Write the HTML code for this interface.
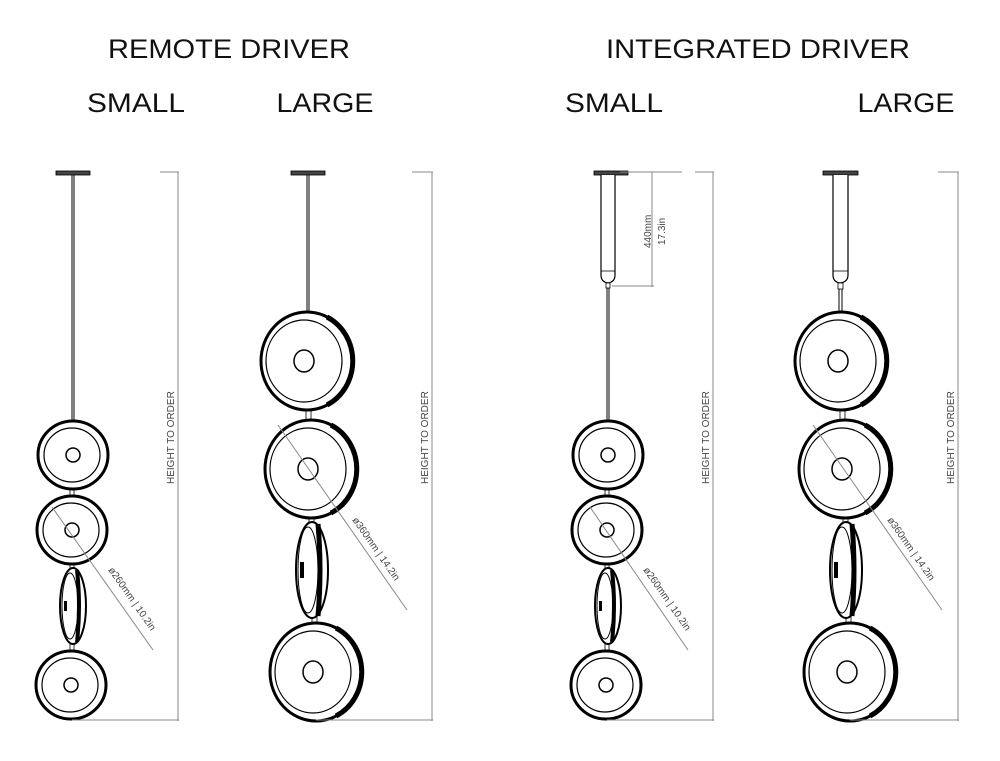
<!DOCTYPE html>
<html><head><meta charset="utf-8"><style>
html,body{margin:0;padding:0;background:#fff}
svg{display:block}
.t{font-family:"Liberation Sans",sans-serif;fill:#111}
.d{font-family:"Liberation Sans",sans-serif;fill:#444;font-size:10px}
</style></head><body>
<svg width="1000" height="761" viewBox="0 0 1000 761" xmlns="http://www.w3.org/2000/svg">
<defs>
  <g id="dS">
    <ellipse cx="0" cy="0" rx="35" ry="34" fill="#fff" stroke="#000" stroke-width="3"/>
    <ellipse cx="-1" cy="0" rx="28" ry="27" fill="none" stroke="#000" stroke-width="1.2"/>
    <circle cx="0" cy="0" r="7" fill="none" stroke="#000" stroke-width="1.5"/>
  </g>
  <g id="dL">
    <ellipse cx="0" cy="0" rx="46" ry="49" fill="#fff" stroke="#000" stroke-width="3"/>
    <path d="M 20 -44 A 46 49 0 0 1 20 44" fill="none" stroke="#000" stroke-width="5"/>
    <ellipse cx="-3" cy="0" rx="38" ry="41" fill="none" stroke="#000" stroke-width="1.2"/>
    <ellipse cx="-3" cy="0" rx="10" ry="11" fill="none" stroke="#000" stroke-width="1.5"/>
  </g>
  <g id="sS">
    <ellipse cx="0" cy="0" rx="13" ry="38" fill="#fff" stroke="#000" stroke-width="2"/>
    <ellipse cx="-3" cy="0" rx="8" ry="33" fill="none" stroke="#000" stroke-width="1"/>
    <path d="M 4 -36 Q 8 0 4 36" fill="none" stroke="#000" stroke-width="4"/>
    <rect x="-9" y="-5" width="3" height="10" fill="#000"/>
  </g>
  <g id="sL">
    <ellipse cx="0" cy="0" rx="16" ry="48" fill="#fff" stroke="#000" stroke-width="2"/>
    <ellipse cx="-4" cy="0" rx="10" ry="43" fill="none" stroke="#000" stroke-width="1"/>
    <path d="M 6 -46 Q 10 0 6 46" fill="none" stroke="#000" stroke-width="5"/>
    <rect x="-12" y="-8" width="4" height="16" fill="#000"/>
  </g>
</defs>

<!-- Titles -->
<text class="t" x="229" y="58" font-size="27" text-anchor="middle" textLength="242" lengthAdjust="spacingAndGlyphs">REMOTE DRIVER</text>
<text class="t" x="758" y="58" font-size="27" text-anchor="middle" textLength="304" lengthAdjust="spacingAndGlyphs">INTEGRATED DRIVER</text>
<text class="t" x="136" y="112" font-size="27" text-anchor="middle" textLength="98" lengthAdjust="spacingAndGlyphs">SMALL</text>
<text class="t" x="325" y="112" font-size="27" text-anchor="middle" textLength="97" lengthAdjust="spacingAndGlyphs">LARGE</text>
<text class="t" x="614" y="112" font-size="27" text-anchor="middle" textLength="98" lengthAdjust="spacingAndGlyphs">SMALL</text>
<text class="t" x="906" y="112" font-size="27" text-anchor="middle" textLength="97" lengthAdjust="spacingAndGlyphs">LARGE</text>

<!-- ===== Remote small ===== -->
<rect x="56" y="171" width="34" height="4" fill="#444" stroke="#000" stroke-width="0.8"/>
<line x1="72" y1="175" x2="72" y2="422" stroke="#000" stroke-width="1"/>
<line x1="74" y1="175" x2="74" y2="422" stroke="#000" stroke-width="1"/>
<rect x="70" y="488" width="4" height="8" fill="#fff" stroke="#000" stroke-width="0.8"/>
<rect x="70" y="562" width="4" height="8" fill="#fff" stroke="#000" stroke-width="0.8"/>
<rect x="70" y="642" width="4" height="8" fill="#fff" stroke="#000" stroke-width="0.8"/>
<use href="#dS" x="73" y="455"/>
<use href="#dS" x="72" y="530"/>
<use href="#sS" x="73" y="606"/>
<use href="#dS" x="71" y="685"/>
<g stroke="#888" stroke-width="1" fill="none">
  <line x1="160" y1="172" x2="179" y2="172"/>
  <line x1="178" y1="172" x2="178" y2="721"/>
  <line x1="72" y1="720" x2="179" y2="720"/>
  <line x1="52" y1="507" x2="153" y2="650"/>
</g>
<text class="d" transform="translate(174,484) rotate(-90)">HEIGHT  TO  ORDER</text>
<text class="d" transform="translate(108,570) rotate(55)">ø260mm  |  10.2in</text>

<!-- ===== Remote large ===== -->
<rect x="291" y="171" width="34" height="4" fill="#444" stroke="#000" stroke-width="0.8"/>
<line x1="307" y1="175" x2="307" y2="313" stroke="#000" stroke-width="1"/>
<line x1="309" y1="175" x2="309" y2="313" stroke="#000" stroke-width="1"/>
<rect x="306" y="406" width="5" height="14" fill="#fff" stroke="#000" stroke-width="0.8"/>
<rect x="309" y="516" width="5" height="10" fill="#fff" stroke="#000" stroke-width="0.8"/>
<rect x="312" y="614" width="5" height="12" fill="#fff" stroke="#000" stroke-width="0.8"/>
<use href="#dL" x="307" y="361"/>
<use href="#dL" x="311" y="469"/>
<use href="#sL" x="312" y="570"/>
<use href="#dL" x="316" y="672"/>
<g stroke="#888" stroke-width="1" fill="none">
  <line x1="412" y1="172" x2="433" y2="172"/>
  <line x1="432" y1="172" x2="432" y2="721"/>
  <line x1="316" y1="720" x2="433" y2="720"/>
  <line x1="278" y1="425" x2="407" y2="610"/>
</g>
<text class="d" transform="translate(428,484) rotate(-90)">HEIGHT  TO  ORDER</text>
<text class="d" transform="translate(352,520) rotate(55)">ø360mm  |  14.2in</text>

<!-- ===== Integrated small ===== -->
<rect x="594" y="171" width="34" height="4" fill="#444" stroke="#000" stroke-width="0.8"/>
<path d="M 601 175 L 601 275 Q 601 282 608 283 Q 615 282 615 275 L 615 175" fill="#fff" stroke="#000" stroke-width="1.2"/>
<line x1="601" y1="271" x2="615" y2="271" stroke="#000" stroke-width="0.8"/>
<rect x="606" y="283" width="4" height="5" fill="#fff" stroke="#000" stroke-width="0.8"/>
<line x1="607" y1="288" x2="607" y2="422" stroke="#000" stroke-width="1"/>
<line x1="609" y1="288" x2="609" y2="422" stroke="#000" stroke-width="1"/>
<rect x="605" y="488" width="4" height="8" fill="#fff" stroke="#000" stroke-width="0.8"/>
<rect x="605" y="562" width="4" height="8" fill="#fff" stroke="#000" stroke-width="0.8"/>
<rect x="605" y="642" width="4" height="8" fill="#fff" stroke="#000" stroke-width="0.8"/>
<use href="#dS" x="608" y="455"/>
<use href="#dS" x="607" y="530"/>
<use href="#sS" x="608" y="606"/>
<use href="#dS" x="606" y="685"/>
<g stroke="#888" stroke-width="1" fill="none">
  <line x1="620" y1="172" x2="682" y2="172"/>
  <line x1="652" y1="172" x2="652" y2="287"/>
  <line x1="612" y1="286" x2="654" y2="286"/>
  <line x1="695" y1="172" x2="714" y2="172"/>
  <line x1="713" y1="172" x2="713" y2="721"/>
  <line x1="607" y1="720" x2="714" y2="720"/>
  <line x1="590" y1="507" x2="688" y2="650"/>
</g>
<text class="d" font-size="9" transform="translate(651,248) rotate(-90)">440mm</text>
<text class="d" font-size="9" transform="translate(665,245) rotate(-90)">17.3in</text>
<text class="d" transform="translate(709,484) rotate(-90)">HEIGHT  TO  ORDER</text>
<text class="d" transform="translate(643,570) rotate(55)">ø260mm  |  10.2in</text>

<!-- ===== Integrated large ===== -->
<rect x="823" y="171" width="35" height="4" fill="#444" stroke="#000" stroke-width="0.8"/>
<path d="M 833 175 L 833 275 Q 833 282 840 283 Q 848 282 848 275 L 848 175" fill="#fff" stroke="#000" stroke-width="1.2"/>
<line x1="833" y1="271" x2="848" y2="271" stroke="#000" stroke-width="0.8"/>
<rect x="838" y="283" width="5" height="6" fill="#fff" stroke="#000" stroke-width="0.8"/>
<line x1="839" y1="289" x2="839" y2="313" stroke="#000" stroke-width="1"/>
<line x1="842" y1="289" x2="842" y2="313" stroke="#000" stroke-width="1"/>
<rect x="840" y="406" width="5" height="14" fill="#fff" stroke="#000" stroke-width="0.8"/>
<rect x="843" y="516" width="5" height="10" fill="#fff" stroke="#000" stroke-width="0.8"/>
<rect x="846" y="614" width="5" height="12" fill="#fff" stroke="#000" stroke-width="0.8"/>
<use href="#dL" x="841" y="361"/>
<use href="#dL" x="845" y="469"/>
<use href="#sL" x="846" y="570"/>
<use href="#dL" x="850" y="672"/>
<g stroke="#888" stroke-width="1" fill="none">
  <line x1="938" y1="172" x2="959" y2="172"/>
  <line x1="958" y1="172" x2="958" y2="721"/>
  <line x1="850" y1="720" x2="959" y2="720"/>
  <line x1="813" y1="425" x2="942" y2="610"/>
</g>
<text class="d" transform="translate(954,484) rotate(-90)">HEIGHT  TO  ORDER</text>
<text class="d" transform="translate(887,520) rotate(55)">ø360mm  |  14.2in</text>
</svg>
</body></html>
